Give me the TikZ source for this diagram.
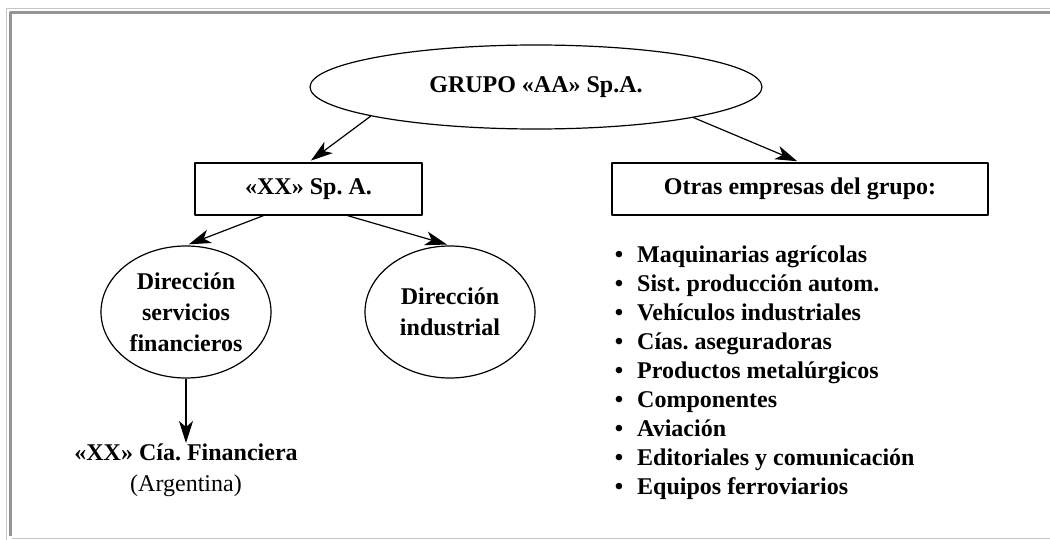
\documentclass[tikz,border=0pt]{standalone}
\usepackage{fontspec}
\setmainfont{Liberation Serif}
\usetikzlibrary{arrows.meta,shapes.geometric}
\frenchspacing
\tikzset{
  elipse/.style={draw,ellipse,line width=1.2pt,inner sep=0pt,align=center},
  caja/.style={draw,rectangle,line width=1.2pt,inner sep=0pt},
  flecha/.style={->,line width=1.2pt},
  renglon/.style={anchor=base west,inner sep=0pt}
}
\begin{document}
\begin{tikzpicture}[x=1pt,y=-1pt,>={Stealth[length=22pt,width=14pt,inset=6pt]},
    font=\fontsize{24}{31}\selectfont\bfseries, line join=round]
  \useasboundingbox (0,0) rectangle (1050,540);
  % marco
  \draw[black!22] (6.5,540) -- (6.5,8.5) -- (1050,8.5);
  \draw[black!42,line width=3pt] (10.5,536) -- (10.5,12.5) -- (1050,12.5);
  \draw[black!22] (12,538.5) -- (1050,538.5);
  
  \node[elipse,minimum width=452pt,minimum height=84pt] (grupo) at (536,87) {GRUPO «AA» Sp.A.};
  \node[caja,minimum width=227pt,minimum height=52pt] (xx) at (308.5,189) {«XX» Sp. A.};
  \node[caja,minimum width=376pt,minimum height=52pt] (otras) at (800,189) {Otras empresas del grupo:};
  \node[elipse,minimum width=170pt,minimum height=132pt] (dserv) at (186,312) {Dirección\\servicios\\financieros};
  \node[elipse,minimum width=170pt,minimum height=132pt] (dind) at (450,312) {Dirección\\industrial};
  \node[align=center,inner sep=1pt,anchor=north] (cia) at (186,443) {«XX» Cía. Financiera\\{\mdseries (Argentina)}};
  
  % lista de empresas
  \foreach \emp [count=\i from 0] in {Maquinarias agrícolas, Sist. producción autom.,
      Vehículos industriales, Cías. aseguradoras, Productos metalúrgicos, Componentes,
      Aviación, Editoriales y comunicación, Equipos ferroviarios}{
    \node[anchor=base,inner sep=0pt] (bala\i) at (619,262+29.1*\i) {\textbullet};
    \node[renglon] (emp\i) at (637,262+29.1*\i) {\emp};
  }
  
  \draw[flecha,shorten >=3pt] (grupo.190) -- (xx.north);
  \draw[flecha,shorten >=3pt] (grupo.349) -- (otras.north);
  \draw[flecha,shorten >=3pt] ([xshift=-45pt]xx.south) -- (dserv.north);
  \draw[flecha,shorten >=3pt] ([xshift=39pt]xx.south) -- (dind.north);
  \draw[flecha] (dserv.south) -- (cia.north);
\end{tikzpicture}
\end{document}
